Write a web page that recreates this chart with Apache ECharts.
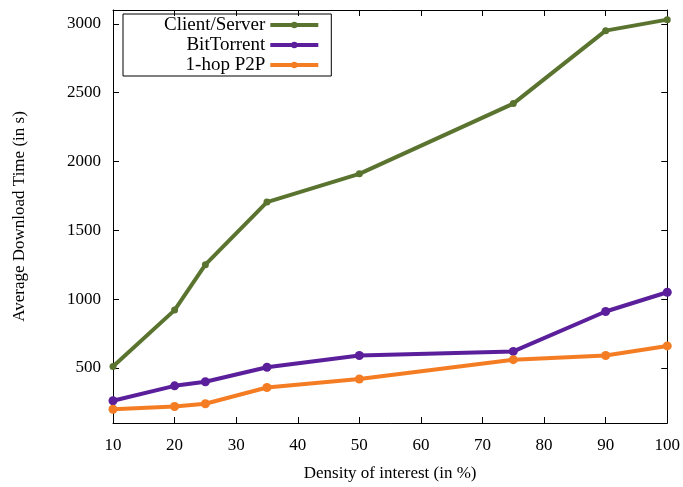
<!DOCTYPE html>
<html>
<head>
<meta charset="utf-8">
<script src="https://cdn.jsdelivr.net/npm/echarts@6/dist/echarts.min.js"></script>
<style>
  html, body { margin: 0; padding: 0; background: #fff; }
  #main { width: 683px; height: 487px; }
</style>
</head>
<body>
<div id="main"></div>
<script>
// density of interest (%)
var density = [10, 20, 25, 35, 50, 75, 90, 100];
// average download time (s)
var clientServer = [510, 920, 1250, 1705, 1910, 2420, 2950, 3030];
var bitTorrent = [262, 370, 400, 505, 590, 620, 910, 1050];
var oneHop = [200, 220, 240, 358, 420, 560, 590, 660];
var yTicks = [500, 1000, 1500, 2000, 2500, 3000];

function pairs(xs, ys) {
  return xs.map(function (x, i) { return [x, ys[i]]; });
}

var font = 'Liberation Serif';
var chart = echarts.init(document.getElementById('main'));

var axisLine = { show: true, lineStyle: { color: '#000', width: 1 } };
var tick = { show: true, inside: true, length: 6, lineStyle: { color: '#000' } };
var plain = function (v) { return String(v); };

option = {
  animation: false,
  grid: { left: 113, right: 15, top: 10, bottom: 62 },
  legend: {
    left: 123, top: 14,
    orient: 'vertical',
    align: 'right',
    padding: [1, 11, 1, 41],
    itemGap: 0,
    itemWidth: 48, itemHeight: 8,
    lineStyle: { width: 4 },
    borderColor: '#000', borderWidth: 1,
    textStyle: { fontFamily: font, fontSize: 19, color: '#000', lineHeight: 20 },
    data: ['Client/Server', 'BitTorrent', '1-hop P2P']
  },
  xAxis: [{
    type: 'value', min: 10, max: 100, interval: 10,
    name: 'Density of interest (in %)', nameLocation: 'middle', nameGap: 42,
    nameTextStyle: { fontFamily: font, fontSize: 17, color: '#000' },
    axisLine: axisLine, axisTick: tick,
    axisLabel: { fontFamily: font, fontSize: 17, color: '#000', margin: 14, formatter: plain },
    splitLine: { show: false }
  }, {
    type: 'value', position: 'top', min: 10, max: 100, interval: 10,
    axisLine: axisLine, axisTick: tick, axisLabel: { show: false },
    splitLine: { show: false }
  }],
  yAxis: [{
    type: 'value', min: 100, max: 3100,
    name: 'Average Download Time (in s)', nameLocation: 'middle', nameGap: 85,
    nameTextStyle: { fontFamily: font, fontSize: 17, color: '#000' },
    axisLine: axisLine,
    axisTick: Object.assign({ customValues: yTicks }, tick),
    axisLabel: { customValues: yTicks, fontFamily: font, fontSize: 17, color: '#000', margin: 12, formatter: plain },
    splitLine: { show: false }
  }, {
    type: 'value', position: 'right', min: 100, max: 3100,
    axisLine: axisLine,
    axisTick: Object.assign({ customValues: yTicks }, tick),
    axisLabel: { show: false },
    splitLine: { show: false }
  }],
  series: [{
    name: 'Client/Server', type: 'line',
    data: pairs(density, clientServer),
    symbol: 'circle', symbolSize: 7,
    lineStyle: { width: 4, color: '#5a7430' },
    itemStyle: { color: '#5a7430' }
  }, {
    name: 'BitTorrent', type: 'line',
    data: pairs(density, bitTorrent),
    symbol: 'circle', symbolSize: 9,
    lineStyle: { width: 4, color: '#5b1f9c' },
    itemStyle: { color: '#5b1f9c' }
  }, {
    name: '1-hop P2P', type: 'line',
    data: pairs(density, oneHop),
    symbol: 'circle', symbolSize: 9,
    lineStyle: { width: 4, color: '#f47d24' },
    itemStyle: { color: '#f47d24' }
  }]
};
chart.setOption(option);
</script>
</body>
</html>
